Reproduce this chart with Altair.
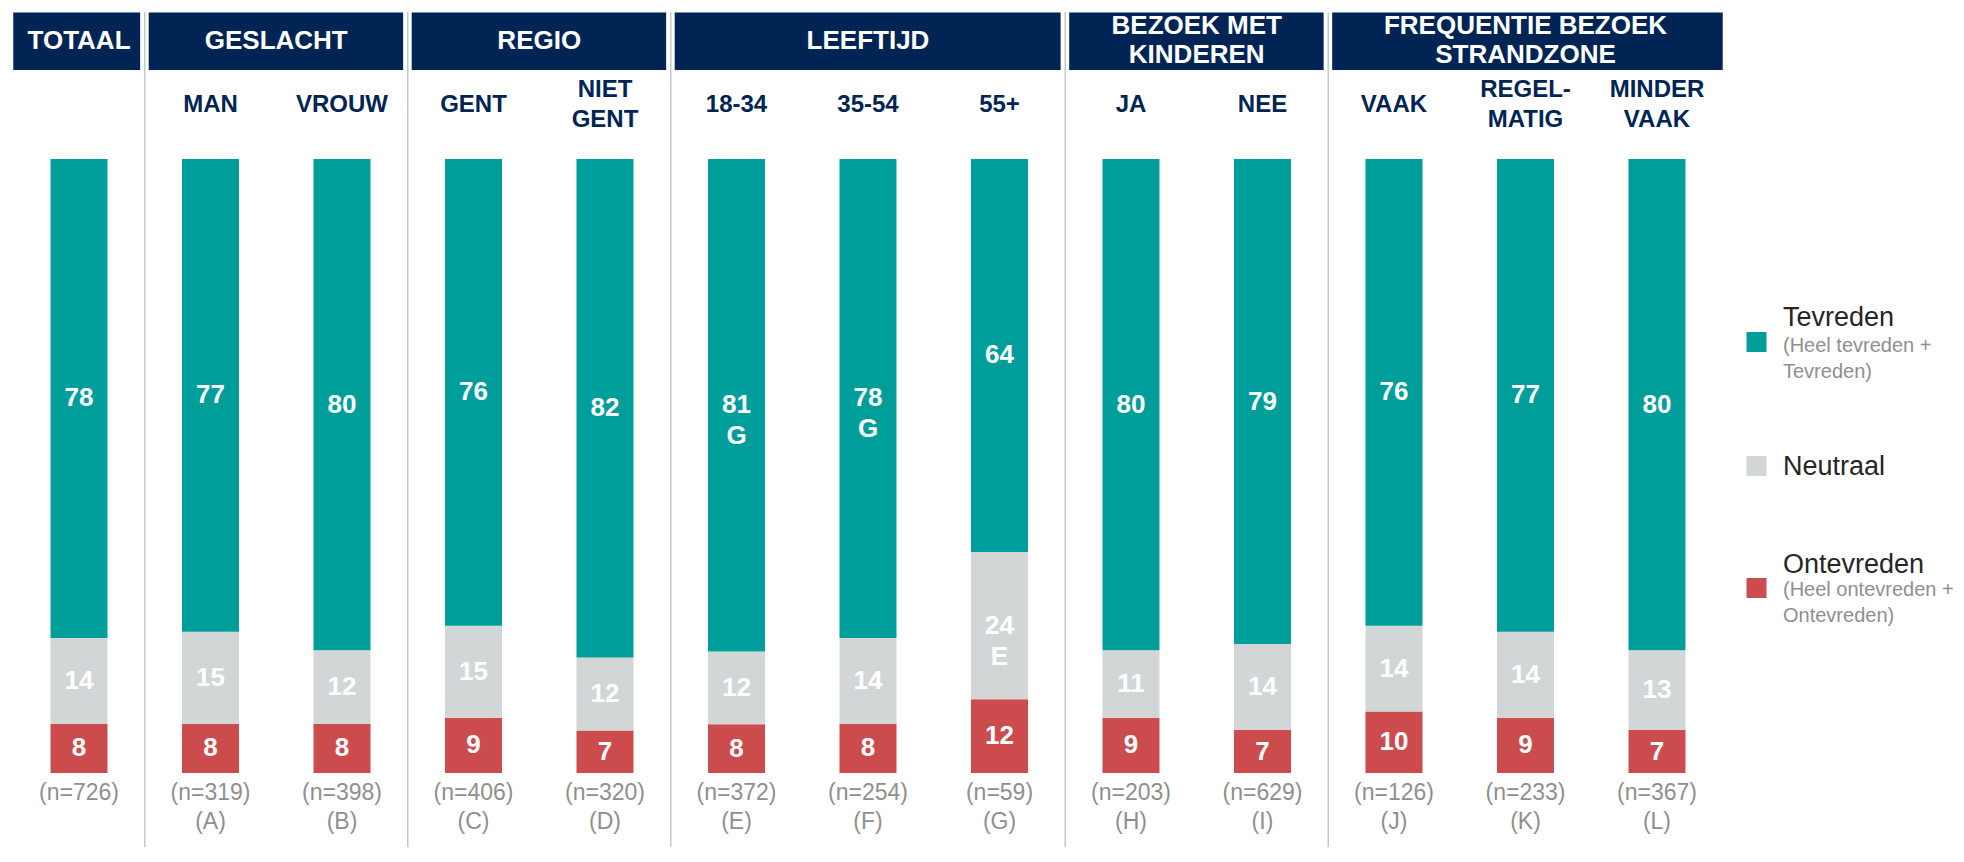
import altair as alt
import pandas as pd

# ---- data ----
col_labels = ["", "MAN", "VROUW", "GENT", "NIET\nGENT", "18-34", "35-54", "55+",
              "JA", "NEE", "VAAK", "REGEL-\nMATIG", "MINDER\nVAAK"]
n_labels = ["(n=726)", "(n=319)", "(n=398)", "(n=406)", "(n=320)", "(n=372)", "(n=254)",
            "(n=59)", "(n=203)", "(n=629)", "(n=126)", "(n=233)", "(n=367)"]
letters = ["", "(A)", "(B)", "(C)", "(D)", "(E)", "(F)", "(G)", "(H)", "(I)", "(J)", "(K)", "(L)"]

tevreden = [78, 77, 80, 76, 82, 81, 78, 64, 80, 79, 76, 77, 80]
neutraal = [14, 15, 12, 15, 12, 12, 14, 24, 11, 14, 14, 14, 13]
ontevreden = [8, 8, 8, 9, 7, 8, 8, 12, 9, 7, 10, 9, 7]
tev_sig = ["", "", "", "", "", "G", "G", "", "", "", "", "", ""]
neu_sig = ["", "", "", "", "", "", "", "E", "", "", "", "", ""]
ont_sig = ["", "", "", "", "", "", "", "", "", "", "", "", ""]

group_names = ["TOTAAL", "GESLACHT", "REGIO", "LEEFTIJD", "BEZOEK MET\nKINDEREN",
               "FREQUENTIE BEZOEK\nSTRANDZONE"]
group_start = [0, 1, 3, 5, 8, 10]
group_end = [0, 2, 4, 7, 9, 12]

cats = ["Tevreden", "Neutraal", "Ontevreden"]
cat_colors = ["#009E9B", "#D3D6D7", "#CC4B4D"]
legend_notes = ["(Heel tevreden +\nTevreden)", "", "(Heel ontevreden +\nOntevreden)"]

# ---- tables ----
rows = []
for i in range(len(col_labels)):
    for k, (cat, vals, sig) in enumerate([("Ontevreden", ontevreden, ont_sig),
                                           ("Neutraal", neutraal, neu_sig),
                                           ("Tevreden", tevreden, tev_sig)]):
        rows.append(dict(idx=i, cat=cat, value=vals[i], sig=sig[i], order=k))
df = pd.DataFrame(rows)

cols_df = pd.DataFrame(dict(idx=list(range(len(col_labels))), label=col_labels,
                            n=n_labels, letter=letters))
groups_df = pd.DataFrame(dict(name=group_names, start=group_start, end=group_end))
last_idx = len(col_labels) - 1

FONT = "Liberation Sans"
NAVY = "#002554"
GREYTXT = "#8F8F8F"

xscale = alt.Scale(domain=[-0.54, 14.274], nice=False, zero=False, padding=0)
yscale = alt.Scale(domain=[-12.05, 124.59], nice=False, zero=False, padding=0)
cscale = alt.Scale(domain=cats, range=cat_colors)
X = lambda f: alt.X(f, scale=xscale, axis=None)

base = (alt.Chart(df)
        .transform_joinaggregate(total="sum(value)", groupby=["idx"])
        .transform_calculate(pct="datum.value / datum.total * 100")
        .transform_stack(stack="pct", groupby=["idx"], sort=[alt.SortField("order")],
                         as_=["y0", "y1"])
        .transform_calculate(mid="(datum.y0 + datum.y1) / 2",
                             txt="datum.sig ? datum.value + '\\n' + datum.sig : '' + datum.value"))

bars = base.mark_bar(size=57).encode(
    x=X("idx:Q"),
    y=alt.Y("y0:Q", scale=yscale, axis=None),
    y2="y1:Q",
    color=alt.Color("cat:N", scale=cscale, legend=None),
)

bar_text = base.mark_text(font=FONT, fontSize=26, fontWeight="bold", color="white",
                          baseline="middle", align="center", lineBreak="\n",
                          lineHeight=31).encode(
    x=X("idx:Q"),
    y=alt.Y("mid:Q", scale=yscale, axis=None),
    text="txt:N",
)

# header boxes
hdr = (alt.Chart(groups_df)
       .transform_calculate(
           x0="datum.start - 0.5 + (datum.start > 0 ? 0.03 : 0)",
           x1=f"datum.end + 0.5 - (datum.end < {last_idx} ? 0.035 : 0)",
           xc="(datum.start + datum.end) / 2",
           sep="datum.end + 0.5",
           multi="indexof(datum.name, '\\n') >= 0"))

hdr_rect = hdr.mark_rect(color=NAVY).encode(
    x=X("x0:Q"), x2="x1:Q", y=alt.value(4.5), y2=alt.value(62))

hdr_style = dict(font=FONT, fontSize=26, fontWeight="bold", color="white",
                 baseline="middle", align="center", lineBreak="\n", lineHeight=29)
hdr_text1 = hdr.transform_filter("!datum.multi").mark_text(**hdr_style).encode(
    x=X("xc:Q"), y=alt.value(33), text="name:N")
hdr_text2 = hdr.transform_filter("datum.multi").mark_text(**hdr_style).encode(
    x=X("xc:Q"), y=alt.value(18), text="name:N")

seps = hdr.transform_filter(f"datum.end < {last_idx}").mark_rule(
    color="#C8C8C8", strokeWidth=1.5).encode(
    x=X("sep:Q"), y=alt.value(4), y2=alt.value(839))

cols = alt.Chart(cols_df).transform_calculate(multi="indexof(datum.label, '\\n') >= 0")
col_style = dict(font=FONT, fontSize=24, fontWeight="bold", color=NAVY,
                 baseline="middle", align="center", lineBreak="\n", lineHeight=30)
col_text1 = cols.transform_filter("!datum.multi").mark_text(**col_style).encode(
    x=X("idx:Q"), y=alt.value(97), text="label:N")
col_text2 = cols.transform_filter("datum.multi").mark_text(**col_style).encode(
    x=X("idx:Q"), y=alt.value(82), text="label:N")

n_text = alt.Chart(cols_df).mark_text(font=FONT, fontSize=23, color=GREYTXT,
                                      baseline="middle", align="center").encode(
    x=X("idx:Q"), y=alt.value(785), text="n:N")

l_text = alt.Chart(cols_df).mark_text(font=FONT, fontSize=23, color=GREYTXT,
                                      baseline="middle", align="center").encode(
    x=X("idx:Q"), y=alt.value(814), text="letter:N")

# legend (manual)
leg_layers = []
sq_y = [334, 458, 580]
lab_y = [309.5, 459, 557]
note_y = [338, 0, 582]
for j, cat in enumerate(cats):
    ldf = pd.DataFrame(dict(cat=[cat], note=[legend_notes[j]]))
    leg_layers.append(alt.Chart(ldf).mark_square(size=400, opacity=1).encode(
        x=alt.value(1748.5), y=alt.value(sq_y[j]),
        color=alt.Color("cat:N", scale=cscale, legend=None)))
    leg_layers.append(alt.Chart(ldf).mark_text(font=FONT, fontSize=27, color="#262626",
                                               align="left", baseline="middle").encode(
        x=alt.value(1775), y=alt.value(lab_y[j]), text="cat:N"))
    if legend_notes[j]:
        leg_layers.append(alt.Chart(ldf).mark_text(font=FONT, fontSize=20, color=GREYTXT,
                                                   align="left", baseline="middle",
                                                   lineBreak="\n", lineHeight=26).encode(
            x=alt.value(1775), y=alt.value(note_y[j]), text="note:N"))

chart = alt.layer(seps, hdr_rect, hdr_text1, hdr_text2, col_text1, col_text2, bars,
                  bar_text, n_text, l_text, *leg_layers).properties(
    width=1948, height=839, padding=0, background="white"
).configure_view(stroke=None)

chart.save("out.html", embed_options={"renderer": "svg", "actions": False})
